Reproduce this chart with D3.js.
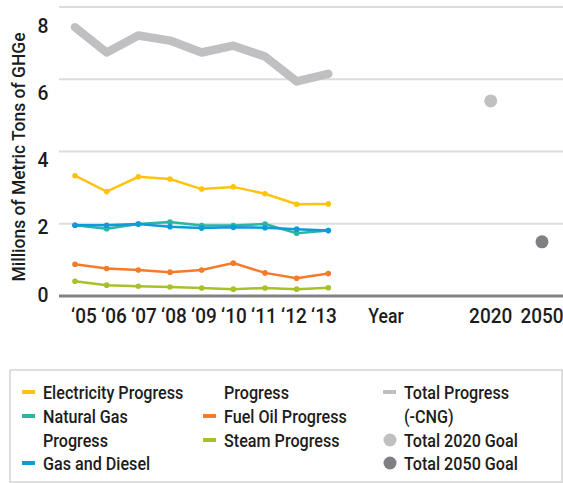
<!DOCTYPE html>
<html>
<head>
<meta charset="utf-8">
<script src="https://cdn.jsdelivr.net/npm/d3@7"></script>
<style>
  body { margin: 0; background: #fff; }
  svg text { font-family: Roboto, "Liberation Sans", sans-serif; fill: #1c1c1c; font-weight: 500; }
</style>
</head>
<body>
<svg id="chart" width="563" height="483"></svg>
<script>
// data
const years = ["‘05", "‘06", "‘07", "‘08", "‘09", "‘10", "‘11", "‘12", "‘13"];
const electricity = [3.33, 2.89, 3.30, 3.24, 2.96, 3.02, 2.83, 2.54, 2.55];
const naturalGas = [1.96, 1.86, 1.99, 2.05, 1.95, 1.95, 1.99, 1.74, 1.81];
const gasDiesel = [1.96, 1.96, 1.99, 1.92, 1.88, 1.90, 1.89, 1.85, 1.81];
const fuelOil = [0.88, 0.76, 0.72, 0.66, 0.72, 0.91, 0.64, 0.49, 0.62];
const steam = [0.41, 0.30, 0.27, 0.25, 0.22, 0.19, 0.22, 0.19, 0.23];
const total = [7.44, 6.74, 7.21, 7.07, 6.74, 6.93, 6.63, 5.94, 6.15];
const goalYears = ["2020", "2050"];
const goalValues = [5.4, 1.5];
const yTicks = [0, 2, 4, 6, 8];

const svg = d3.select("#chart");

// scales (labels sit on a slightly tighter layout than the marks)
const x = d3.scalePoint().domain(years).range([75, 328.3]);
const xLab = d3.scalePoint().domain(years).range([84, 324]);
const xGoal = d3.scalePoint().domain(goalYears).range([490.7, 542]);
const y = d3.scaleLinear().domain([0, 8]).range([296, 7]);
const yLab = d3.scaleLinear().domain([0, 8]).range([294, 25]);

// narrow text helper: the source font is a condensed face
function label(parent, txt, px, py, opts) {
  const o = Object.assign({ size: 19, k: 0.86, anchor: "start", rotate: 0 }, opts);
  return parent.append("text")
    .attr("transform", `translate(${px},${py}) rotate(${o.rotate}) scale(${o.k},1)`)
    .attr("dy", "0.36em")
    .attr("text-anchor", o.anchor)
    .attr("font-size", o.size)
    .text(txt);
}

// gridlines
svg.append("g").selectAll("line")
  .data(yTicks.filter(d => d > 0))
  .join("line")
  .attr("x1", 59).attr("x2", 563)
  .attr("y1", d => y(d)).attr("y2", d => y(d))
  .attr("stroke", "#dcdcdc").attr("stroke-width", 2);

// baseline
svg.append("line")
  .attr("x1", 59).attr("x2", 563)
  .attr("y1", y(0)).attr("y2", y(0))
  .attr("stroke", "#838383").attr("stroke-width", 3);

// y tick labels
yTicks.forEach(d => label(svg, d, 43, yLab(d), { size: 21, k: 0.92, anchor: "middle" }));

// y axis title
label(svg, "Millions of Metric Tons of GHGe", 18, 157, { size: 19, k: 0.92, anchor: "middle", rotate: -90 });

// x tick labels
years.forEach(d => label(svg, d, xLab(d), 316, { size: 20, k: 0.95, anchor: "middle" }));
goalYears.forEach(d => label(svg, d, xGoal(d), 316, { size: 20, k: 0.95, anchor: "middle" }));
label(svg, "Year", 386, 316, { size: 20, k: 0.88, anchor: "middle" });

// lines
const line = d3.line()
  .x((d, i) => x(years[i]))
  .y(d => y(d));

svg.append("path")
  .attr("d", line(total))
  .attr("fill", "none")
  .attr("stroke", "#c0c0c2")
  .attr("stroke-width", 8.5)
  .attr("stroke-linejoin", "round")
  .attr("stroke-linecap", "round");

const series = [
  { values: electricity, color: "#fdc40f" },
  { values: naturalGas, color: "#2bb5a3" },
  { values: gasDiesel, color: "#0e9bd8" },
  { values: fuelOil, color: "#f47b2a" },
  { values: steam, color: "#a9bf2c" },
];

series.forEach(s => {
  svg.append("path")
    .attr("d", line(s.values))
    .attr("fill", "none")
    .attr("stroke", s.color)
    .attr("stroke-width", 2.5);
  svg.append("g").selectAll("circle")
    .data(s.values)
    .join("circle")
    .attr("cx", (d, i) => x(years[i]))
    .attr("cy", d => y(d))
    .attr("r", 2.8)
    .attr("fill", s.color);
});

// goal dots
const goalColors = ["#c0c0c2", "#7f7f84"];
svg.append("g").selectAll("circle")
  .data(goalValues)
  .join("circle")
  .attr("cx", (d, i) => xGoal(goalYears[i]))
  .attr("cy", d => y(d))
  .attr("r", 6.5)
  .attr("fill", (d, i) => goalColors[i]);

// legend
svg.append("rect")
  .attr("x", 10).attr("y", 370)
  .attr("width", 552).attr("height", 112)
  .attr("fill", "none")
  .attr("stroke", "#d4d4d4")
  .attr("stroke-width", 1.5);

const legend = [
  { col: 0, row: 0, text: "Electricity Progress", color: "#fdc40f", mark: "line" },
  { col: 0, row: 1, text: "Natural Gas", color: "#2bb5a3", mark: "line" },
  { col: 0, row: 2, text: "Progress" },
  { col: 0, row: 3, text: "Gas and Diesel", color: "#0e9bd8", mark: "line" },
  { col: 1, row: 0, text: "Progress" },
  { col: 1, row: 1, text: "Fuel Oil Progress", color: "#f47b2a", mark: "line" },
  { col: 1, row: 2, text: "Steam Progress", color: "#a9bf2c", mark: "line" },
  { col: 2, row: 0, text: "Total Progress", color: "#c0c0c2", mark: "line" },
  { col: 2, row: 1, text: "(-CNG)" },
  { col: 2, row: 2, text: "Total 2020 Goal", color: "#c0c0c2", mark: "dot" },
  { col: 2, row: 3, text: "Total 2050 Goal", color: "#7f7f84", mark: "dot" },
];
const colX = [22, 203, 383];
const rowY = [392, 416, 440, 463];

legend.forEach(d => {
  const g = svg.append("g").attr("transform", `translate(${colX[d.col]},${rowY[d.row]})`);
  if (d.mark === "line") {
    g.append("rect")
      .attr("x", 0).attr("y", -2)
      .attr("width", 13).attr("height", 4)
      .attr("fill", d.color);
  } else if (d.mark === "dot") {
    g.append("circle")
      .attr("cx", 7).attr("cy", 0).attr("r", 6.5)
      .attr("fill", d.color);
  }
  label(g, d.text, 21, 0, { size: 19, k: 0.85 });
});
</script>
</body>
</html>
